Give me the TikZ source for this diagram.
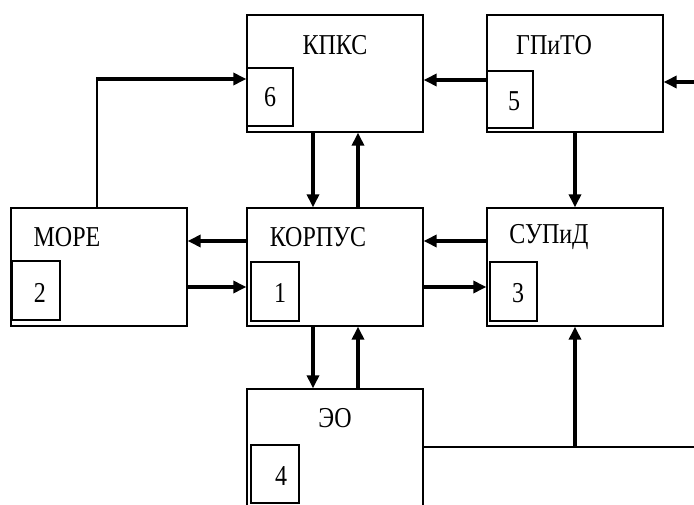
\documentclass[tikz,border=0pt]{standalone}
\usepackage{graphicx}
\usepackage{fontspec}
\setmainfont{Liberation Serif}
\usetikzlibrary{arrows.meta}
\newcommand\vstretch[1]{\scalebox{1}[1.2]{#1}}
\begin{document}
\begin{tikzpicture}[x=1pt,y=-1pt,
  outer/.style={draw,line width=1.3pt,rectangle,inner sep=0pt},
  inner/.style={draw,line width=1.7pt,rectangle,inner sep=0pt},
  lbl/.style={font=\fontsize{24}{24}\selectfont,inner sep=0pt},
  arr/.style={line width=3.2pt,-{Triangle[length=13pt,width=12pt]}},
  thinl/.style={line width=1.4pt}]
\useasboundingbox (0,0) rectangle (694,505);
\clip (0,0) rectangle (694,505);
% outer boxes
\node[outer,minimum width=176pt,minimum height=117pt] (kpks) at (335,73.5) {};
\node[outer,minimum width=176pt,minimum height=117pt] (gp) at (575,73.5) {};
\node[outer,minimum width=176pt,minimum height=118pt] (more) at (99,267) {};
\node[outer,minimum width=176pt,minimum height=118pt] (korp) at (335,267) {};
\node[outer,minimum width=176pt,minimum height=118pt] (sup) at (575,267) {};
\node[outer,minimum width=176pt,minimum height=140pt] (eo) at (335,459) {};
% inner boxes
\node[inner,minimum width=46pt,minimum height=58pt] (b6) at (270,97) {};
\node[inner,minimum width=46pt,minimum height=57pt] (b5) at (510,99.5) {};
\node[inner,minimum width=48pt,minimum height=59pt] (b2) at (36,290.5) {};
\node[inner,minimum width=48pt,minimum height=59pt] (b1) at (275,291.5) {};
\node[inner,minimum width=47pt,minimum height=59pt] (b3) at (513.5,291.5) {};
\node[inner,minimum width=48pt,minimum height=58pt] (b4) at (275,474) {};
% labels
\node[lbl] (t6) at (270,97) {\vstretch{6}};
\node[lbl] (t5) at (514,101) {\vstretch{5}};
\node[lbl] (t2) at (40,293) {\vstretch{2}};
\node[lbl] (t1) at (280,293) {\vstretch{1}};
\node[lbl] (t3) at (518,293) {\vstretch{3}};
\node[lbl] (t4) at (281,476) {\vstretch{4}};
\node[lbl] (l1) at (335,45) {\vstretch{КПКС}};
\node[lbl] (l2) at (554,45) {\vstretch{ГПиТО}};
\node[lbl] (l3) at (67,237) {\vstretch{МОРЕ}};
\node[lbl] (l4) at (318,237) {\vstretch{КОРПУС}};
\node[lbl] (l5) at (549,237) {\vstretch{СУПиД}};
\node[lbl] (l6) at (335,418) {\vstretch{ЭО}};
% connectors
\coordinate (c1) at (97,79);
\draw[thinl] (c1) -- (c1 |- more.north);
\draw[arr] ([xshift=-0.7pt]c1) -- (c1 -| kpks.west);
\draw[arr] (gp.west |- 0,80) -- (kpks.east |- 0,80);
\coordinate (rin) at (694,82);
\draw[arr] (rin) -- (rin -| gp.east);
\draw[arr] (kpks.south -| 313,0) -- (korp.north -| 313,0);
\draw[arr] (korp.north -| 358,0) -- (kpks.south -| 358,0);
\draw[arr] (gp.south -| 575,0) -- (sup.north -| 575,0);
\draw[arr] (korp.west |- 0,241) -- (more.east |- 0,241);
\draw[arr] (more.east |- 0,287) -- (korp.west |- 0,287);
\draw[arr] (sup.west |- 0,241) -- (korp.east |- 0,241);
\draw[arr] (korp.east |- 0,287) -- (sup.west |- 0,287);
\draw[arr] (korp.south -| 313,0) -- (eo.north -| 313,0);
\draw[arr] (eo.north -| 358,0) -- (korp.south -| 358,0);
\coordinate (rout) at (694,447);
\draw[thinl] (eo.east |- rout) -- (rout);
\coordinate (j) at (575,447);
\draw[arr] (j) -- (sup.south -| j);
\end{tikzpicture}
\end{document}
